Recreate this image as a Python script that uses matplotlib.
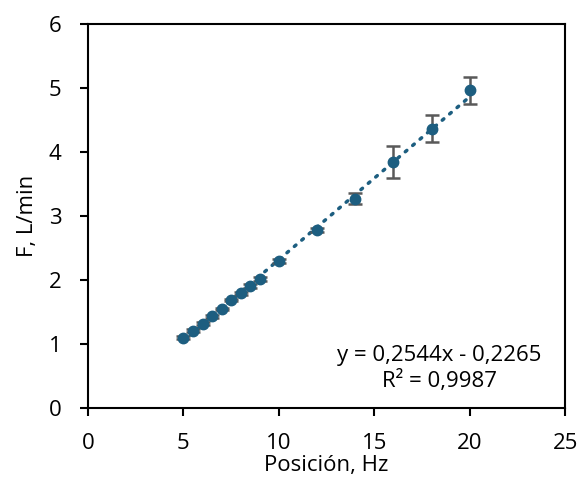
import numpy as np
import matplotlib.pyplot as plt

plt.rcParams['font.family'] = ['Open Sans', 'DejaVu Sans']

posicion = [5, 5.5, 6, 6.5, 7, 7.5, 8, 8.5, 9, 10, 12, 14, 16, 18, 20]
flujo = [1.10, 1.21, 1.32, 1.43, 1.55, 1.69, 1.79, 1.91, 2.02, 2.29, 2.78, 3.27, 3.85, 4.36, 4.96]
error = [0.02, 0.02, 0.02, 0.02, 0.02, 0.02, 0.02, 0.03, 0.03, 0.03, 0.03, 0.09, 0.25, 0.21, 0.21]

pendiente = 0.2544
intercepto = -0.2265
r2 = 0.9987

color = '#1d5e80'

fig = plt.figure(figsize=(5.79, 4.78), dpi=100)
ax = fig.add_axes([0.152, 0.1464, 0.824, 0.8036])

ax.errorbar(posicion, flujo, yerr=error, fmt='o', color=color, ms=7.5,
            ecolor='#595959', elinewidth=1.8, capsize=5, capthick=1.8, zorder=3)

xt = np.array([min(posicion), max(posicion)])
ax.plot(xt, pendiente * xt + intercepto, color=color, lw=2.5,
        linestyle=(0, (0.6, 2.2)), dash_capstyle='round', zorder=2)

ax.text(0.736, 0.138, 'y = 0,2544x - 0,2265', transform=ax.transAxes,
        ha='center', va='center', fontsize=16)
ax.text(0.736, 0.070, 'R² = 0,9987', transform=ax.transAxes,
        ha='center', va='center', fontsize=16)

ax.set_xlim(0, 25)
ax.set_ylim(0, 6)
ax.set_xticks([0, 5, 10, 15, 20, 25])
ax.set_yticks([0, 1, 2, 3, 4, 5, 6])
ax.tick_params(labelsize=16, direction='out', length=6, width=1.5)
ax.tick_params(axis='x', pad=12)
ax.tick_params(axis='y', pad=13)
ax.set_xlabel('Posición, Hz', fontsize=16, labelpad=1)
ax.set_ylabel('F, L/min', fontsize=16, labelpad=8)
for s in ax.spines.values():
    s.set_linewidth(1.5)

plt.savefig('out.png')
